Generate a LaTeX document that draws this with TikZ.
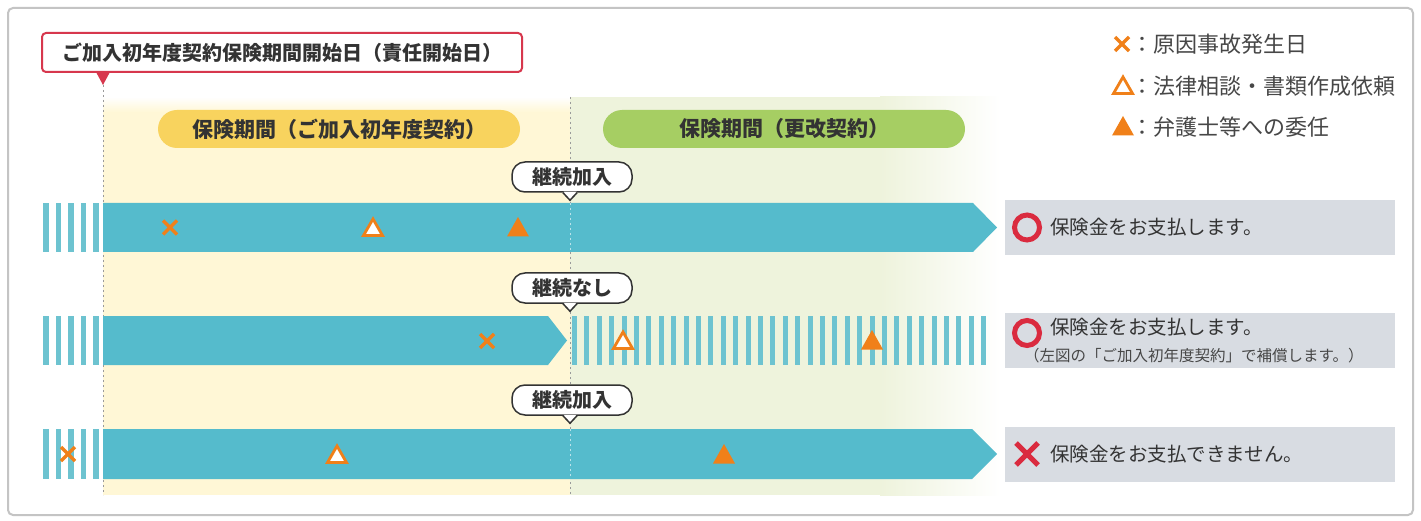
\documentclass[tikz,border=0pt]{standalone}
\usepackage{fontspec}
\setmainfont{Noto Sans CJK JP}
\usetikzlibrary{calc}
\definecolor{framegray}{HTML}{C4C4C4}
\definecolor{titlered}{HTML}{D7374D}
\definecolor{pillyellow}{HTML}{F8D35E}
\definecolor{pillgreen}{HTML}{A6CE63}
\definecolor{bgyellow}{HTML}{FFF7D6}
\definecolor{bggreen}{HTML}{EEF3DC}
\definecolor{barblue}{HTML}{55BBCC}
\definecolor{stripeblue}{HTML}{6DC3D0}
\definecolor{markorange}{HTML}{F08019}
\definecolor{resultgray}{HTML}{D8DCE2}
\definecolor{ringred}{HTML}{DA2B3F}
\definecolor{textdark}{HTML}{333333}
\definecolor{dashgray}{HTML}{9A9A9A}
\begin{document}
\begin{tikzpicture}[x=1pt,y=-1pt,
  titlebox/.style={draw=titlered, line width=2pt, fill=white, rounded corners=4pt,
    minimum width=480pt, minimum height=39pt, inner sep=0pt, text=textdark,
    font=\fontsize{20}{24}\selectfont\bfseries},
  pillbox/.style={rounded corners=19pt, minimum width=362pt, minimum height=38pt,
    inner sep=0pt, text=textdark, font=\fontsize{21}{25}\selectfont\bfseries},
  bubble/.style={draw=textdark, line width=1.5pt, fill=white, rounded corners=13pt,
    minimum width=120pt, minimum height=30pt, inner sep=0pt, text=textdark,
    font=\fontsize{20}{24}\selectfont\bfseries},
  resultbox/.style={fill=resultgray, minimum width=390pt, minimum height=55pt, inner sep=0pt},
  resulttext/.style={anchor=west, inner sep=0pt, text=textdark, font=\fontsize{19.5}{23}\selectfont},
  smalltext/.style={anchor=west, inner sep=0pt, text=textdark!90, font=\fontsize{15.5}{18}\selectfont},
  legendtext/.style={anchor=west, inner sep=0pt, text=textdark!90, font=\fontsize{22}{26}\selectfont},
  dashline/.style={dashgray, line width=1pt, dash pattern=on 2pt off 3pt},
  lightdash/.style={white, opacity=0.6, line width=1pt, dash pattern=on 2pt off 3pt},
  xmark/.pic={\draw[markorange, line width=3.5pt] (-7,-7)--(7,7) (-7,7)--(7,-7);},
  opentri/.pic={\draw[markorange, fill=white, line width=2.8pt, line join=miter] (0,-9)--(9.5,7.5)--(-9.5,7.5)--cycle;},
  filltri/.pic={\fill[markorange] (0,-11)--(11,8.5)--(-11,8.5)--cycle;},
  ringmark/.pic={\draw[ringred, line width=5pt] (0,0) circle (12.5);},
  nomark/.pic={\draw[ringred, line width=5pt] (-11,-11)--(11,11) (-11,11)--(11,-11);}
]
\useasboundingbox (0,0) rectangle (1421,521);
\fill[white] (0,0) rectangle (1421,521);
% outer frame
\draw[framegray, line width=2pt, rounded corners=5pt] (8,8) rectangle (1413,515);

% period backgrounds
\fill[bgyellow] (103,97) rectangle (570,495);
\shade[top color=white, bottom color=bgyellow] (103,97) rectangle (570,112);
\fill[bggreen] (570,97) rectangle (880,495);
\shade[left color=bggreen, right color=white] (880,97) rectangle (1000,495);

% dashed period boundaries
\coordinate (startTop) at (103,85);
\coordinate (startBot) at (103,495);
\coordinate (renewTop) at (570,97);
\coordinate (renewBot) at (570,495);
\draw[dashline] (startTop) -- (startBot);
\draw[dashline] (renewTop) -- (renewBot);

% title box with pointer
\node[titlebox] (title) at (282,52.5) {ご加入初年度契約保険期間開始日（責任開始日）};
\fill[titlered] ($(startTop)+(-7,-13)$) -- ($(startTop)+(7,-13)$) -- (startTop) -- cycle;

% period pills
\node[pillbox, fill=pillyellow] (pillA) at (339,129) {保険期間（ご加入初年度契約）};
\node[pillbox, fill=pillgreen] (pillB) at (784,129) {保険期間（更改契約）};

% legend
\pic at (1122,44) {xmark};
\node[legendtext] (lg1) at (1131,44) {：原因事故発生日};
\pic at (1123,86) {opentri};
\node[legendtext] (lg2) at (1131,86) {：法律相談・書類作成依頼};
\pic at (1123,127) {filltri};
\node[legendtext] (lg3) at (1131,127) {：弁護士等への委任};

% ---------- row 1 ----------
\foreach \i in {0,...,4} {\fill[stripeblue] ({43+12.5*\i},203) rectangle ++(5.5,49);}
\fill[barblue] (103,203) -- (973,203) -- (997,227.5) -- (973,252) -- (103,252) -- cycle;
\draw[lightdash] (570,203) -- (570,252);
\pic at (170,227.5) {xmark};
\pic at (373,228) {opentri};
\pic at (518,228) {filltri};
\node[bubble] (b1) at (572,177) {継続加入};
\fill[white] ($(b1.south)+(-8.5,-1)$) -- ($(b1.south)+(-2,7)$) -- ($(b1.south)+(4.5,-1)$) -- cycle;
\draw[textdark, line width=1.5pt] ($(b1.south)+(-9,0)$) -- ($(b1.south)+(-2,7.5)$) -- ($(b1.south)+(5,0)$);
\node[resultbox] (r1) at (1200,227.5) {};
\pic at (1027,227.5) {ringmark};
\node[resulttext] (t1) at (1050,227.5) {保険金をお支払します。};

% ---------- row 2 ----------
\foreach \i in {0,...,4} {\fill[stripeblue] ({43+12.5*\i},316) rectangle ++(5.5,49);}
\fill[barblue] (103,316) -- (548,316) -- (567,340.5) -- (548,365) -- (103,365) -- cycle;
\foreach \i in {0,...,33} {\fill[stripeblue] ({572+12.4*\i},316) rectangle ++(5,49);}
\pic at (487,341) {xmark};
\pic at (623,341) {opentri};
\pic at (872,341) {filltri};
\node[bubble] (b2) at (572,288) {継続なし};
\fill[white] ($(b2.south)+(-8.5,-1)$) -- ($(b2.south)+(-2,7)$) -- ($(b2.south)+(4.5,-1)$) -- cycle;
\draw[textdark, line width=1.5pt] ($(b2.south)+(-9,0)$) -- ($(b2.south)+(-2,7.5)$) -- ($(b2.south)+(5,0)$);
\node[resultbox] (r2) at (1200,340.5) {};
\pic at (1027,333) {ringmark};
\node[resulttext] (t2) at (1050,327) {保険金をお支払します。};
\node[smalltext] (t2b) at (1024,356) {（左図の「ご加入初年度契約」で補償します。）};

% ---------- row 3 ----------
\foreach \i in {0,...,4} {\fill[stripeblue] ({43+12.5*\i},429) rectangle ++(5.5,50);}
\fill[barblue] (103,429) -- (972,429) -- (997,454) -- (972,479) -- (103,479) -- cycle;
\draw[lightdash] (570,429) -- (570,479);
\pic at (68,454) {xmark};
\pic at (337,455) {opentri};
\pic at (724,455) {filltri};
\node[bubble] (b3) at (572,400) {継続加入};
\fill[white] ($(b3.south)+(-8.5,-1)$) -- ($(b3.south)+(-2,7)$) -- ($(b3.south)+(4.5,-1)$) -- cycle;
\draw[textdark, line width=1.5pt] ($(b3.south)+(-9,0)$) -- ($(b3.south)+(-2,7.5)$) -- ($(b3.south)+(5,0)$);
\node[resultbox] (r3) at (1200,454) {};
\pic at (1027,454) {nomark};
\node[resulttext] (t3) at (1050,454) {保険金をお支払できません。};
\end{tikzpicture}
\end{document}
